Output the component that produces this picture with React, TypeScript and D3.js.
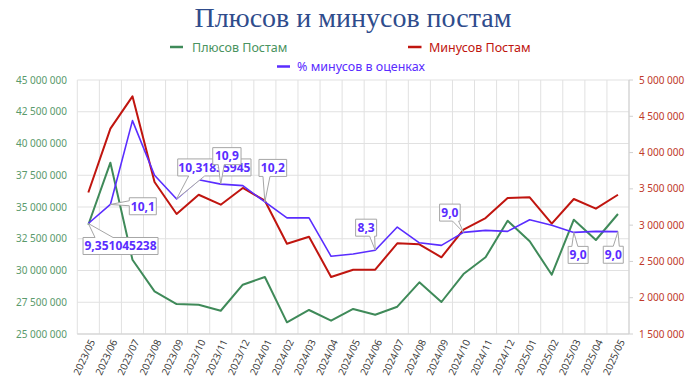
import * as d3 from 'd3'

const months = [
	'2023/05', '2023/06', '2023/07', '2023/08', '2023/09', '2023/10', '2023/11', '2023/12',
	'2024/01', '2024/02', '2024/03', '2024/04', '2024/05', '2024/06', '2024/07', '2024/08',
	'2024/09', '2024/10', '2024/11', '2024/12', '2025/01', '2025/02', '2025/03', '2025/04', '2025/05',
]

// Плюсов Постам (left axis)
const plusPosts = [
	33.6e6, 38.49e6, 30.85e6, 28.36e6, 27.36e6, 27.31e6, 26.83e6, 28.88e6,
	29.49e6, 25.92e6, 26.89e6, 26.05e6, 26.97e6, 26.52e6, 27.15e6, 29.07e6,
	27.52e6, 29.72e6, 31.04e6, 33.92e6, 32.3e6, 29.67e6, 34.0e6, 32.4e6, 34.45e6,
]

// Минусов Постам (right axis)
const minusPosts = [
	3.45e6, 4.33e6, 4.775e6, 3.594e6, 3.153e6, 3.419e6, 3.282e6, 3.512e6,
	3.337e6, 2.744e6, 2.841e6, 2.285e6, 2.386e6, 2.386e6, 2.75e6, 2.736e6,
	2.557e6, 2.937e6, 3.098e6, 3.374e6, 3.384e6, 3.02e6, 3.36e6, 3.227e6, 3.419e6,
]

// % минусов в оценках (hidden axis 5..15)
const minusPct = [
	9.351, 10.1, 13.4, 11.25, 10.318, 11.07, 10.9, 10.84,
	10.2, 9.57, 9.57, 8.06, 8.15, 8.3, 9.21, 8.59,
	8.49, 9.0, 9.08, 9.04, 9.5, 9.28, 9.0, 9.04, 9.03,
]

const leftTicks = [25e6, 27.5e6, 30e6, 32.5e6, 35e6, 37.5e6, 40e6, 42.5e6, 45e6]
const rightTicks = [1.5e6, 2e6, 2.5e6, 3e6, 3.5e6, 4e6, 4.5e6, 5e6]

const labelIdx = [0, 1, 4, 6, 8, 13, 17, 22, 24]
const labelText = ['9,351045238', '10,1', '10,31835945', '10,9', '10,2', '8,3', '9,0', '9,0', '9,0']

// callout box placement relative to its point
const calloutLayout = [
	{ dx: -5.3, dy: 14, w: 75, side: 'top', a: 12, b: 30 },
	{ dx: 18.9, dy: -6.7, w: 27, side: 'left', a: 3, b: 8 },
	{ dx: 1.1, dy: -40, w: 73.3, side: 'bottom', a: 11, b: 27 },
	{ dx: -8, dy: -36.5, w: 28.3, side: 'bottom', a: 5.5, b: 11.5 },
	{ dx: -5.9, dy: -42.5, w: 27.7, side: 'bottom', a: 4, b: 11 },
	{ dx: -19.6, dy: -31, w: 21, side: 'bottom', a: 14, b: 19 },
	{ dx: -23.9, dy: -28.3, w: 20.6, side: 'bottom', a: 13, b: 19 },
	{ dx: -5.7, dy: 14, w: 20, side: 'top', a: 3.7, b: 9.7 },
	{ dx: -14.7, dy: 14.6, w: 20, side: 'top', a: 10, b: 16 },
]

const W = 700
const H = 388
const left = 77.3
const right = 629
const top = 80
const bottom = 334

const GREEN = '#3f8a59'
const RED = '#c0150f'
const BLUE = '#5a2dff'
const GRID = '#e1e1e1'
const FONT = "'Noto Sans', 'DejaVu Sans', sans-serif"

const fmt = (v: number) => d3.format(',')(v).replace(/,/g, ' ')

function calloutPath(px: number, py: number, x0: number, y0: number, w: number, h: number, side: string, a: number, b: number) {
	const x1 = x0 + w
	const y1 = y0 + h
	if (side === 'top')
		return `M${x0},${y0}H${x0 + a}L${px},${py}L${x0 + b},${y0}H${x1}V${y1}H${x0}Z`
	if (side === 'left')
		return `M${x0},${y0}H${x1}V${y1}H${x0}V${y0 + b}L${px},${py}L${x0},${y0 + a}Z`
	return `M${x0},${y0}H${x1}V${y1}H${x0 + b}L${px},${py}L${x0 + a},${y1}H${x0}Z`
}

export default function App() {
	const x = d3.scaleBand().domain(months).range([left, right])
	const cx = (m: string) => (x(m) ?? 0) + x.bandwidth() / 2
	const yL = d3.scaleLinear().domain([25e6, 45e6]).range([bottom, top])
	const yR = d3.scaleLinear().domain([1.5e6, 5e6]).range([bottom, top])
	const yP = d3.scaleLinear().domain([5, 15]).range([bottom, top])

	const plusLine = d3.line<number>().x((_, i) => cx(months[i])).y((d) => yL(d))
	const minusLine = d3.line<number>().x((_, i) => cx(months[i])).y((d) => yR(d))
	const pctLine = d3.line<number>().x((_, i) => cx(months[i])).y((d) => yP(d))

	const boundaries = [...months.map((m) => x(m) ?? 0), right]
	const boxH = 17

	return (
		<svg width={W} height={H} style={{ position: 'absolute', left: 0, top: 0, background: '#fff' }}>
			<text x={353} y={26.5} textAnchor='middle' fontFamily="'Liberation Serif', 'DejaVu Serif', serif" fontSize={28} fill='#2f4c8c'>
				Плюсов и минусов постам
			</text>

			{/* legend */}
			<g fontFamily={FONT} fontSize={12.5}>
				<line x1={170} x2={183} y1={47} y2={47} stroke={GREEN} strokeWidth={2.5} />
				<text x={192} y={51.5} fill='#4a9360'>Плюсов Постам</text>
				<line x1={408} x2={421.5} y1={47} y2={47} stroke={RED} strokeWidth={2.5} />
				<text x={429} y={51.5} fill={RED}>Минусов Постам</text>
				<line x1={277} x2={290} y1={66.5} y2={66.5} stroke={BLUE} strokeWidth={2.5} />
				<text x={297} y={71} fill={BLUE}>% минусов в оценках</text>
			</g>

			{/* grid */}
			{leftTicks.map((t) => (
				<line key={'h' + t} x1={left} x2={right} y1={yL(t)} y2={yL(t)} stroke={GRID} strokeWidth={1} />
			))}
			{boundaries.map((b, i) => (
				<line key={'v' + i} x1={b} x2={b} y1={top} y2={bottom} stroke={GRID} strokeWidth={1} />
			))}
			<line x1={left} x2={right} y1={bottom} y2={bottom} stroke='#d0d0d0' />
			<line x1={right} x2={right} y1={top} y2={bottom} stroke='#d0d0d0' />
			{rightTicks.map((t) => (
				<line key={'rt' + t} x1={right} x2={right + 4} y1={yR(t)} y2={yR(t)} stroke='#d0d0d0' />
			))}

			{/* axis labels */}
			<g fontFamily={FONT} fontSize={10}>
				{leftTicks.map((t) => (
					<text key={'l' + t} x={67} y={yL(t)} dy='0.35em' textAnchor='end' fill='#5a9a6c'>
						{fmt(t)}
					</text>
				))}
				{rightTicks.map((t) => (
					<text key={'r' + t} x={639} y={yR(t)} dy='0.35em' fill='#c0392b'>
						{fmt(t)}
					</text>
				))}
				{months.map((m) => (
					<text key={m} transform={`translate(${cx(m) + 4},${bottom + 6}) rotate(-65)`} dy='0.35em' textAnchor='end' fill='#404040'>
						{m}
					</text>
				))}
			</g>

			{/* series */}
			<path d={plusLine(plusPosts) ?? ''} fill='none' stroke={GREEN} strokeWidth={2} strokeLinejoin='round' />
			<path d={minusLine(minusPosts) ?? ''} fill='none' stroke={RED} strokeWidth={2} strokeLinejoin='round' />
			<path d={pctLine(minusPct) ?? ''} fill='none' stroke={BLUE} strokeWidth={1.6} strokeLinejoin='round' />

			{/* callouts */}
			<g fontFamily={FONT} fontSize={12} fontWeight='bold'>
				{labelIdx.map((idx, k) => {
					const L = calloutLayout[k]
					const px = cx(months[idx])
					const py = yP(minusPct[idx])
					const x0 = px + L.dx
					const y0 = py + L.dy
					return (
						<g key={'c' + idx}>
							<path d={calloutPath(px, py, x0, y0, L.w, boxH, L.side, L.a, L.b)} fill='#fff' stroke='#a6a6a6' strokeWidth={1} />
							<text x={x0 + L.w / 2} y={y0 + boxH / 2} dy='0.36em' textAnchor='middle' fill={BLUE}>
								{labelText[k]}
							</text>
						</g>
					)
				})}
			</g>
		</svg>
	)
}
